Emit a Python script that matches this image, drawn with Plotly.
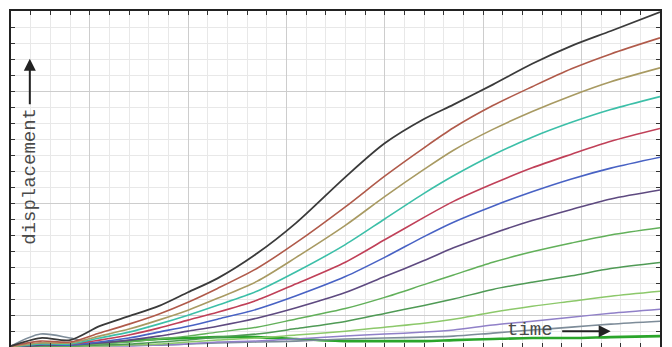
import plotly.graph_objects as go

# time samples (grid units)
time = [0, 1.5, 3, 4.5, 6, 7.5, 9, 10.5, 12.5, 14.5, 17, 19, 21, 22.5, 24.5, 26.5, 28.5, 30.5, 33]

s_black = [0.06, 0.56, 0.43, 1.30, 1.93, 2.55, 3.42, 4.29, 5.84, 7.76, 10.62, 12.73, 14.25, 15.15, 16.40, 17.70, 18.82, 19.75, 20.93]
s_brown = [0.06, 0.37, 0.31, 0.87, 1.43, 2.05, 2.80, 3.66, 4.91, 6.52, 8.76, 10.68, 12.45, 13.70, 15.09, 16.27, 17.39, 18.32, 19.32]
s_olive = [0.0, 0.25, 0.25, 0.68, 1.12, 1.68, 2.30, 3.04, 4.10, 5.60, 7.60, 9.40, 11.10, 12.30, 13.60, 14.72, 15.71, 16.58, 17.45]
s_teal = [0.0, 0.19, 0.19, 0.56, 0.93, 1.43, 1.99, 2.61, 3.48, 4.70, 6.40, 8.00, 9.60, 10.70, 12.00, 13.11, 14.04, 14.84, 15.65]
s_crimson = [0.0, 0.25, 0.19, 0.43, 0.75, 1.18, 1.68, 2.17, 2.92, 3.95, 5.30, 6.70, 8.10, 9.10, 10.20, 11.20, 12.05, 12.86, 13.66]
s_blue = [0.0, 0.19, 0.12, 0.31, 0.56, 0.93, 1.30, 1.74, 2.36, 3.20, 4.40, 5.60, 6.90, 7.80, 8.80, 9.70, 10.50, 11.18, 11.86]
s_purple = [0.0, 0.12, 0.12, 0.25, 0.43, 0.68, 0.99, 1.30, 1.80, 2.45, 3.40, 4.40, 5.40, 6.20, 7.10, 7.90, 8.60, 9.25, 9.81]
s_green = [0.0, 0.12, 0.06, 0.19, 0.31, 0.50, 0.68, 0.93, 1.24, 1.75, 2.40, 3.10, 3.90, 4.50, 5.30, 5.95, 6.50, 7.00, 7.45]
s_green2 = [0.0, 0.06, 0.06, 0.12, 0.19, 0.31, 0.43, 0.62, 0.81, 1.15, 1.60, 2.10, 2.60, 3.00, 3.60, 4.05, 4.45, 4.90, 5.28]
s_lightgreen = [0.0, 0.06, 0.06, 0.06, 0.12, 0.19, 0.31, 0.43, 0.56, 0.75, 0.99, 1.24, 1.49, 1.74, 2.17, 2.55, 2.86, 3.17, 3.48]
s_lavender = [0.0, 0.06, 0.06, 0.06, 0.06, 0.12, 0.19, 0.31, 0.37, 0.50, 0.68, 0.81, 0.93, 1.06, 1.37, 1.61, 1.86, 2.11, 2.36]
s_gray = [0.06, 0.81, 0.56, 0.19, 0.12, 0.12, 0.19, 0.25, 0.31, 0.37, 0.50, 0.56, 0.62, 0.68, 0.87, 1.06, 1.24, 1.43, 1.61]
s_bright = [0.0, 0.06, 0.12, 0.25, 0.37, 0.50, 0.56, 0.62, 0.62, 0.50, 0.37, 0.37, 0.37, 0.43, 0.50, 0.56, 0.56, 0.62, 0.68]

series = [
    (s_bright, "#2aa52a", 2.6),
    (s_gray, "#7d8c99", 1.6),
    (s_lavender, "#9080c8", 1.5),
    (s_lightgreen, "#8cc86a", 1.5),
    (s_green2, "#4f9a55", 1.5),
    (s_green, "#62b05a", 1.5),
    (s_purple, "#5e4a80", 1.6),
    (s_blue, "#4862c4", 1.6),
    (s_crimson, "#c04058", 1.6),
    (s_teal, "#3cbfa8", 1.6),
    (s_olive, "#a89a62", 1.6),
    (s_brown, "#b05a4a", 1.6),
    (s_black, "#3a3a3a", 1.8),
]

fig = go.Figure()
for vals, col, w in series:
    fig.add_trace(go.Scatter(x=time, y=vals, mode="lines",
                             line=dict(color=col, width=w, shape="spline", smoothing=0.8),
                             showlegend=False, hoverinfo="skip"))

axis_common = dict(showticklabels=False, showline=True, linecolor="#222", linewidth=2,
                   mirror="ticks", ticks="inside", ticklen=4, tickcolor="#333",
                   zeroline=False, showgrid=True, gridcolor="#cdcdcd", gridwidth=1)

fig.update_xaxes(range=[0, 33], tick0=4, dtick=5,
                 minor=dict(dtick=1, tick0=0, showgrid=True, gridcolor="#e8e8e8",
                            ticks="inside", ticklen=4, tickcolor="#333"),
                 **axis_common)
fig.update_yaxes(range=[0, 21], tick0=2, dtick=7,
                 minor=dict(dtick=1, tick0=0, showgrid=True, gridcolor="#e8e8e8",
                            ticks="inside", ticklen=4, tickcolor="#333"),
                 **axis_common)

font = dict(family="Liberation Mono, DejaVu Sans Mono, monospace", size=19, color="#4a4a4a")

fig.add_annotation(text="displacement", xref="paper", yref="paper", x=0.029, y=0.509,
                   xanchor="center", yanchor="middle",
                   textangle=-90, showarrow=False, font=font)
fig.add_annotation(text="", xref="paper", yref="paper", x=0.029, y=0.858,
                   ax=0, ay=47, showarrow=True, arrowhead=2, arrowsize=1.2,
                   arrowwidth=2, arrowcolor="#222")
fig.add_annotation(text="time", xref="paper", yref="paper", x=0.800, y=0.05,
                   xanchor="center", yanchor="middle",
                   showarrow=False, font=font)
fig.add_annotation(text="", xref="paper", yref="paper", x=0.924, y=0.047,
                   ax=-50, ay=0, showarrow=True, arrowhead=2, arrowsize=1.2,
                   arrowwidth=2, arrowcolor="#222")

# page body adds an 8px offset; margins compensate so the plot frame sits at 11..660 x 9..347
fig.update_layout(width=672, height=347, margin=dict(l=3, r=20, t=1, b=8),
                  paper_bgcolor="white", plot_bgcolor="white")

fig.write_html("out.html")
